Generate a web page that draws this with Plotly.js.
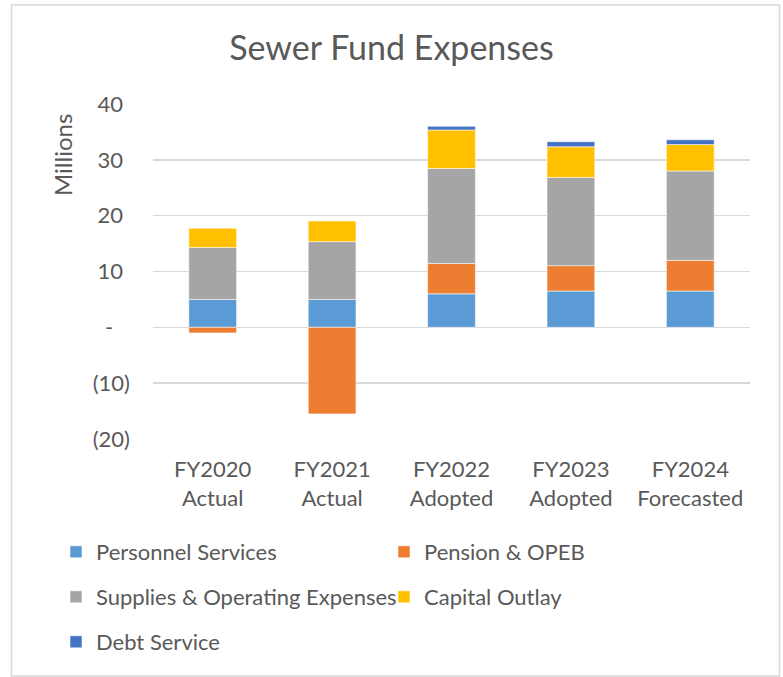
<!DOCTYPE html>
<html>
<head>
<meta charset="utf-8">
<script src="https://cdn.plot.ly/plotly-3.0.1.min.js"></script>
<style>html,body{margin:0;padding:0;background:#fff;}#chart{width:783px;height:677px;}</style>
</head>
<body>
<div id="chart"></div>
<script>
const categories = ["FY2020<br>Actual", "FY2021<br>Actual", "FY2022<br>Adopted", "FY2023<br>Adopted", "FY2024<br>Forecasted"];
const personnelServices = [5.0, 5.0, 6.0, 6.5, 6.5];
const pensionOPEB = [-1.0, -15.5, 5.45, 4.55, 5.5];
const suppliesOperating = [9.3, 10.35, 17.0, 15.8, 16.0];
const capitalOutlay = [3.5, 3.75, 6.9, 5.5, 4.75];
const debtService = [0, 0, 0.65, 0.9, 0.85];
const tickVals = [40, 30, 20, 10, 0, -10, -20];
const tickText = ["40\u00a0\u200a", "30\u00a0\u200a", "20\u00a0\u200a", "10\u00a0\u200a", "-\u00a0\u00a0\u00a0", "(10)", "(20)"];

const W = 783, H = 677;
const M = {l: 153, r: 33, t: 104, b: 238};
const pw = W - M.l - M.r, ph = H - M.t - M.b;
const px = x => (x - M.l) / pw;
const py = y => (H - M.b - y) / ph;

const font = "Lato, 'Open Sans', sans-serif";
const txt = "#595959";
const line = {color: "rgba(255,255,255,0.55)", width: 1};

function tr(name, y, color, legend) {
  return {type: "bar", name: name, x: categories, y: y, marker: {color: color, line: line}, legend: legend, showlegend: true, hoverinfo: "y+name"};
}

const data = [
  tr("Personnel Services", personnelServices, "#5B9BD5", "legend"),
  tr("Pension & OPEB", pensionOPEB, "#ED7D31", "legend2"),
  tr("Supplies & Operating Expenses", suppliesOperating, "#A5A5A5", "legend3"),
  tr("Capital Outlay", capitalOutlay, "#FFC000", "legend4"),
  tr("Debt Service", debtService, "#4472C4", "legend5")
];

function leg(xText, yc) {
  return {visible: true, orientation: "h", xref: "container", yref: "container", xanchor: "left", yanchor: "middle",
    x: (xText - 40) / W, y: 1 - yc / H, font: {family: font, size: 22, color: txt}, bgcolor: "rgba(0,0,0,0)", borderwidth: 0};
}

const layout = {
  width: W, height: H,
  margin: M,
  showlegend: true,
  paper_bgcolor: "#fff", plot_bgcolor: "#fff",
  barmode: "relative",
  bargap: 0.6,
  font: {family: font, color: txt},
  title: {text: "Sewer Fund Expenses", font: {family: font, size: 34, color: txt}, xref: "container", yref: "container", x: 0.5, xanchor: "center", y: 1 - 48 / H, yanchor: "middle"},
  xaxis: {tickfont: {family: font, size: 22, color: txt}, showgrid: false, showline: false, ticks: "", ticklabelstandoff: 15, fixedrange: true},
  yaxis: {range: [-20, 40], tickvals: tickVals, ticktext: tickText, tickfont: {family: font, size: 22, color: txt},
    showgrid: true, gridcolor: "#d9d9d9", gridwidth: 1.5, zeroline: false, showline: false, ticks: "", ticklabelstandoff: 22, fixedrange: true},
  legend: leg(96, 552),
  legend2: leg(424, 552),
  legend3: leg(96, 597),
  legend4: leg(424, 597),
  legend5: leg(96, 642),
  annotations: [{text: "Millions", xref: "paper", yref: "paper", x: px(62), y: py(155), textangle: -90, showarrow: false,
    font: {family: font, size: 24, color: txt}, xanchor: "center", yanchor: "middle"}],
  shapes: [{type: "rect", xref: "paper", yref: "paper", x0: px(11.5), x1: px(779.5), y0: py(676), y1: py(5), line: {color: "#d9d9d9", width: 1.5}, layer: "below"}]
};

Plotly.newPlot("chart", data, layout, {displayModeBar: false, staticPlot: true});
</script>
</body>
</html>
